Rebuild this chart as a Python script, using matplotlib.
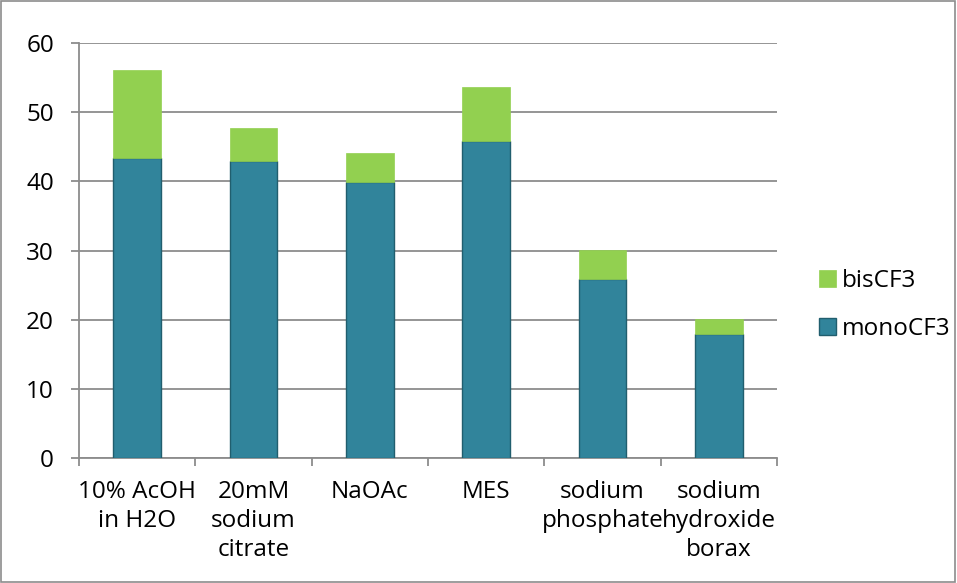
import matplotlib

matplotlib.use("Agg")
import matplotlib.pyplot as plt  # noqa: E402
import numpy as np
from matplotlib.patches import Rectangle

categories = ["10% AcOH\nin H2O", "20mM\nsodium\ncitrate", "NaOAc", "MES",
              "sodium\nphosphate", "sodium\nhydroxide\nborax"]
mono_cf3 = [43.4, 42.9, 39.9, 45.8, 25.9, 17.9]
bis_cf3 = [12.7, 4.8, 4.2, 7.8, 4.2, 2.2]
y_ticks = [0, 10, 20, 30, 40, 50, 60]

plt.rcParams["font.family"] = ["Open Sans", "DejaVu Sans"]

fig = plt.figure(figsize=(9.57, 5.83), dpi=100)
ax = fig.add_axes([79 / 957, 1 - 458 / 583, (777 - 79) / 957, (458 - 43) / 583])

x = np.arange(len(categories))
width = 0.41
grid_c = "#8c8c8c"
fs = 17.5

ax.bar(x, mono_cf3, width, color="#31849b", edgecolor="#215e6e", linewidth=1.0,
       label="monoCF3", zorder=3)
ax.bar(x, bis_cf3, width, bottom=mono_cf3, color="#92d050", edgecolor="#92d050",
       linewidth=0.5, label="bisCF3", zorder=3)

ax.set_xlim(-0.5, len(categories) - 0.5)
ax.set_ylim(0, 60)
ax.set_yticks(y_ticks)
ax.set_yticklabels([str(t) for t in y_ticks], fontsize=fs)
ax.yaxis.grid(True, color=grid_c, linewidth=1.3, zorder=0)

ax.set_xticks(np.arange(len(categories) + 1) - 0.5)
ax.set_xticklabels([])
ax.set_xticks(x, minor=True)
ax.set_xticklabels(categories, minor=True, fontsize=fs, linespacing=1.28)
ax.tick_params(axis="x", which="major", length=6, color=grid_c, width=1.3, direction="out")
ax.tick_params(axis="x", which="minor", length=0, pad=16)
ax.tick_params(axis="y", length=6, color=grid_c, width=1.3, pad=12)

for s in ["top", "right"]:
    ax.spines[s].set_visible(False)
for s in ["left", "bottom"]:
    ax.spines[s].set_color(grid_c)
    ax.spines[s].set_linewidth(1.3)

handles, labels = ax.get_legend_handles_labels()
leg = fig.legend(handles[::-1], labels[::-1], loc="center left",
                 bbox_to_anchor=(797 / 957, 1 - 305 / 583), frameon=False,
                 fontsize=fs, handlelength=0.7, handleheight=0.7,
                 labelspacing=1.0, handletextpad=0.25)

fig.patches.append(Rectangle((0.001, 0.001), 0.997, 0.997, transform=fig.transFigure,
                             fill=False, edgecolor="#8c8c8c", linewidth=1.2))

fig.savefig("out.png", dpi=100)
plt.close(fig)
